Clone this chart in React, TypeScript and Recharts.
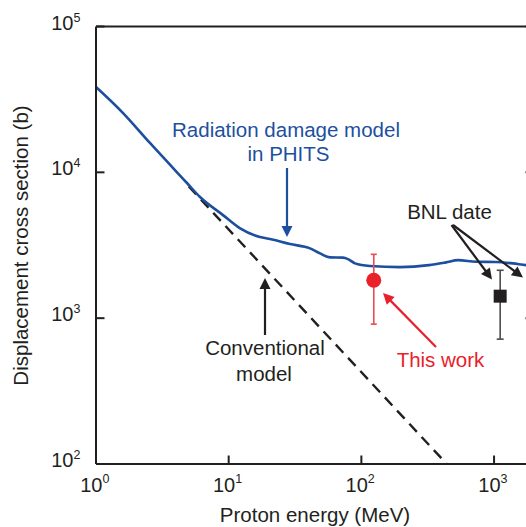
import React from "react";
import {
  ComposedChart,
  Line,
  Scatter,
  ErrorBar,
  XAxis,
  YAxis,
  ReferenceLine,
} from "recharts";

// PHITS radiation damage model (blue curve)
const phitsEnergy = [1, 1.6, 2.55, 4.85, 6.08, 9.06, 12.2, 17.2, 20.5, 29, 41, 48.8, 58, 72.7, 79.3, 89.5, 116, 195, 323, 434, 535, 731, 1033, 1388, 1740, 2000];
const phitsSigma = [38500, 25500, 15900, 8450, 6770, 5090, 4130, 3600, 3487, 3220, 3010, 2780, 2610, 2600, 2540, 2375, 2280, 2240, 2310, 2413, 2500, 2437, 2427, 2375, 2312, 2290];

// conventional model (dashed)
const convEnergy = [5, 440];
const convSigma = [8000, 100];

// this work (red) and BNL (black)
const thisWork = { e: 124, s: 1820, lo: 910, hi: 2740 };
const bnl = { e: 1112, s: 1415, lo: 718, hi: 2130 };

const xTicks = [1, 10, 100, 1000];
const yTicks = [100, 1000, 10000, 100000];

const INK = "#231f20";
const BLUE = "#1d4f9f";
const RED = "#e8212b";
const FONT = "'Liberation Sans', Arial, sans-serif";

const phitsData = phitsEnergy.map((e, i) => ({ e, s: phitsSigma[i] }));
const convData = convEnergy.map((e, i) => ({ e, s: convSigma[i] }));
const redData = [{ e: thisWork.e, s: thisWork.s, err: [thisWork.s - thisWork.lo, thisWork.hi - thisWork.s] }];
const bnlData = [{ e: bnl.e, s: bnl.s, err: [bnl.s - bnl.lo, bnl.hi - bnl.s] }];

const exp = (v: number) => Math.round(Math.log10(v)).toString();

const XTick = (props: any) => {
  const { x, y, payload } = props;
  return (
    <g>
      <line x1={x} x2={x} y1={y} y2={y - 8.5} stroke={INK} strokeWidth={2} />
      <text x={x + 6.5} y={y + 27.5} textAnchor="end" fontSize={20} fill={INK} fontFamily={FONT}>10</text>
      <text x={x + 6.5} y={y + 19} textAnchor="start" fontSize={12.5} fill={INK} fontFamily={FONT}>{exp(payload.value)}</text>
    </g>
  );
};

const YTick = (props: any) => {
  const { x, y, payload } = props;
  return (
    <g>
      <line x1={x} x2={x + 8.5} y1={y} y2={y} stroke={INK} strokeWidth={2} />
      <text x={x - 22.5} y={y + 3} textAnchor="end" fontSize={20} fill={INK} fontFamily={FONT}>10</text>
      <text x={x - 22.5} y={y - 5} textAnchor="start" fontSize={12.5} fill={INK} fontFamily={FONT}>{exp(payload.value)}</text>
    </g>
  );
};

const RightTick = (props: any) => {
  const { x, y } = props;
  return <line x1={x} x2={x - 8.5} y1={y} y2={y} stroke={INK} strokeWidth={2} />;
};

function Arrow({ x1, y1, x2, y2, color }: { x1: number; y1: number; x2: number; y2: number; color: string }) {
  const len = Math.hypot(x2 - x1, y2 - y1);
  const ux = (x2 - x1) / len;
  const uy = (y2 - y1) / len;
  const hl = 11;
  const hw = 5.5;
  const bx = x2 - ux * hl;
  const by = y2 - uy * hl;
  const pts = `${x2},${y2} ${bx - uy * hw},${by + ux * hw} ${bx + uy * hw},${by - ux * hw}`;
  return (
    <g>
      <line x1={x1} y1={y1} x2={bx + ux * 1} y2={by + uy * 1} stroke={color} strokeWidth={2.2} />
      <polygon points={pts} fill={color} />
    </g>
  );
}

export default function App() {
  return (
    <div style={{ position: "absolute", left: 0, top: 0, width: 526, height: 527, overflow: "hidden", background: "#fff" }}>
      <ComposedChart width={540} height={527} margin={{ top: 26.5, right: 0, bottom: 0, left: 0 }}>
        <XAxis
          dataKey="e"
          type="number"
          scale="log"
          domain={[1, 2000]}
          allowDataOverflow
          ticks={xTicks}
          height={63}
          tickLine={false}
          tickSize={0}
          tickMargin={0}
          tick={<XTick />}
          axisLine={{ stroke: INK, strokeWidth: 2 }}
          interval={0}
        />
        <YAxis
          type="number"
          scale="log"
          domain={[100, 100000]}
          allowDataOverflow
          ticks={yTicks}
          width={96}
          tickLine={false}
          tickSize={0}
          tickMargin={0}
          tick={<YTick />}
          axisLine={{ stroke: INK, strokeWidth: 2 }}
          interval={0}
        />
        <YAxis
          yAxisId="right"
          orientation="right"
          type="number"
          scale="log"
          domain={[100, 100000]}
          allowDataOverflow
          ticks={yTicks}
          width={6}
          tickLine={false}
          tickSize={0}
          tickMargin={0}
          tick={<RightTick />}
          axisLine={{ stroke: INK, strokeWidth: 2 }}
          interval={0}
        />
        <ReferenceLine y={100000} stroke={INK} strokeWidth={2} />
        <Line
          data={convData}
          dataKey="s"
          type="linear"
          stroke={INK}
          strokeWidth={2.4}
          strokeDasharray="11 7"
          dot={false}
          isAnimationActive={false}
        />
        <Line
          data={phitsData}
          dataKey="s"
          type="monotone"
          stroke={BLUE}
          strokeWidth={2.6}
          dot={false}
          isAnimationActive={false}
        />
        <Scatter
          data={redData}
          dataKey="s"
          isAnimationActive={false}
          shape={(p: any) => <circle cx={p.cx} cy={p.cy} r={7.5} fill={RED} />}
        >
          <ErrorBar dataKey="err" direction="y" width={3} stroke="#ea4a52" strokeWidth={1.6} />
        </Scatter>
        <Scatter
          data={bnlData}
          dataKey="s"
          isAnimationActive={false}
          shape={(p: any) => <rect x={p.cx - 6.5} y={p.cy - 6.5} width={13} height={13} fill={INK} />}
        >
          <ErrorBar dataKey="err" direction="y" width={3.5} stroke="#4d4d4d" strokeWidth={1.6} />
        </Scatter>
      </ComposedChart>

      <svg width={526} height={527} style={{ position: "absolute", left: 0, top: 0, pointerEvents: "none" }}>
        <g fontFamily={FONT} fontSize={20.5}>
          <text x={315} y={522} textAnchor="middle" fill={INK}>Proton energy (MeV)</text>
          <text x={28} y={245.5} textAnchor="middle" fill={INK} transform="rotate(-90 28 245.5)">
            Displacement cross section (b)
          </text>

          <text x={286} y={136.5} textAnchor="middle" fill={BLUE}>Radiation damage model</text>
          <text x={288.5} y={160.5} textAnchor="middle" fill={BLUE}>in PHITS</text>
          <Arrow x1={287} y1={168} x2={287} y2={237} color={BLUE} />

          <text x={265} y={355} textAnchor="middle" fill={INK}>Conventional</text>
          <text x={264} y={381} textAnchor="middle" fill={INK}>model</text>
          <Arrow x1={265} y1={335} x2={265} y2={278} color={INK} />

          <text x={440.5} y={366.5} textAnchor="middle" fill={RED}>This work</text>
          <Arrow x1={436} y1={347} x2={383} y2={293} color={RED} />

          <text x={449.5} y={218.5} textAnchor="middle" fill={INK}>BNL date</text>
          <Arrow x1={451.5} y1={225} x2={492} y2={279.5} color={INK} />
          <Arrow x1={453} y1={225} x2={523} y2={277.5} color={INK} />
        </g>
      </svg>
    </div>
  );
}
